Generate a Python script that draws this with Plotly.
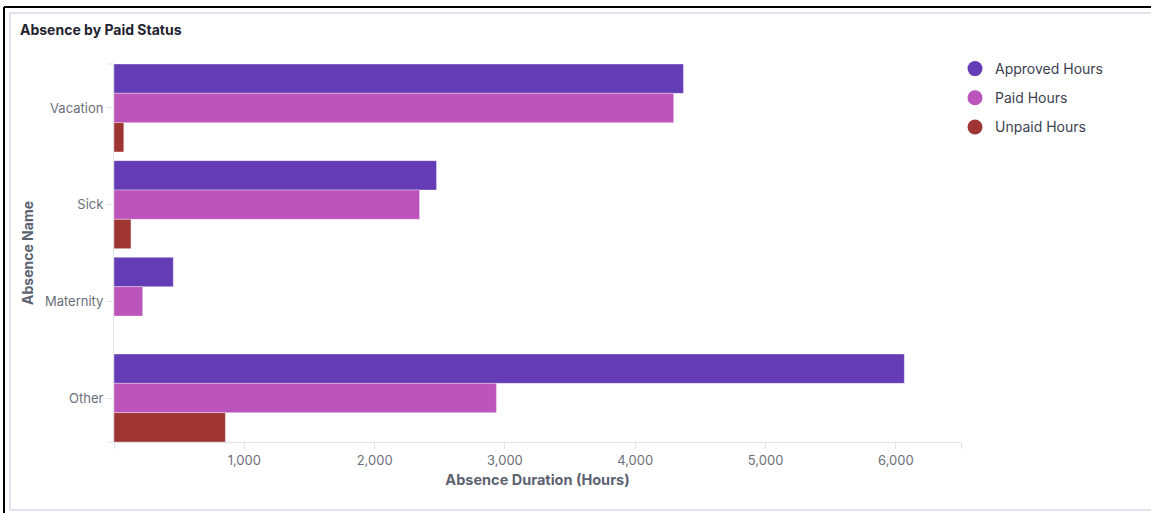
import plotly.graph_objects as go

absences = ['Vacation', 'Sick', 'Maternity', 'Other']
approved_hours = [4370, 2475, 455, 6065]
paid_hours = [4295, 2345, 220, 2935]
unpaid_hours = [75, 130, 0, 855]

series = [
    ('Approved Hours', approved_hours, '#643cb5'),
    ('Paid Hours', paid_hours, '#bb54bb'),
    ('Unpaid Hours', unpaid_hours, '#9e3533'),
]

W, H = 1151, 513
L, R, T, B = 114, 190, 64, 71
PW, PH = W - L - R, H - T - B


def px_x(p):
    return (p - L) / PW


def px_y(p):
    return (H - B - p) / PH


fig = go.Figure()
for name, vals, color in series:
    fig.add_trace(go.Bar(
        y=absences, x=vals, name=name, orientation='h',
        marker=dict(color=color, line=dict(color='rgba(255,255,255,0.35)', width=1)),
        showlegend=False, legendgroup=name,
    ))
for name, vals, color in series:
    fig.add_trace(go.Scatter(
        x=[None], y=[None], mode='markers', name=name, legendgroup=name,
        marker=dict(color=color, size=15, symbol='circle'),
    ))

gap = 0.09
fig.update_layout(
    width=W, height=H,
    margin=dict(l=L, r=R, t=T, b=B),
    plot_bgcolor='white', paper_bgcolor='white',
    font=dict(family='Inter', color='#6b6f7b', size=13),
    barmode='group', bargap=gap, bargroupgap=0,
    title=dict(text='<b>Absence by Paid Status</b>', xref='container', yref='container',
               x=20 / W, y=1 - 30 / H, xanchor='left', yanchor='middle',
               font=dict(size=14, color='#1f2330')),
    legend=dict(x=px_x(955), y=px_y(53), xanchor='left', yanchor='top',
                font=dict(size=14, color='#3c4150'), tracegroupgap=8,
                traceorder='grouped', itemclick=False),
    xaxis=dict(range=[0, 6500], tickvals=[0, 1000, 2000, 3000, 4000, 5000, 6000, 6500],
               ticktext=['', '1,000', '2,000', '3,000', '4,000', '5,000', '6,000', ''],
               showgrid=False, zeroline=False, showline=True, linecolor='#e2e3e6',
               ticks='outside', ticklen=6, tickcolor='#e2e3e6',
               title=dict(text='<b>Absence Duration (Hours)</b>', standoff=8,
                          font=dict(size=14.5, color='#5d6271'))),
    yaxis=dict(range=[3.5 - gap / 2, -0.5 + gap / 2], showgrid=False, zeroline=False,
               showline=True, linecolor='#e2e3e6', ticks='outside', ticklen=7,
               tickcolor='#e2e3e6',
               title=dict(text='<b>Absence Name</b>', standoff=8,
                          font=dict(size=14, color='#5d6271'))),
)

# small boundary ticks at the top and bottom of the category axis
for yp in (0, 1):
    fig.add_shape(type='line', xref='paper', yref='paper', x0=px_x(107), x1=0,
                  y0=yp, y1=yp, line=dict(color='#e2e3e6', width=1))

# card frame
fig.add_shape(type='rect', xref='paper', yref='paper', layer='below',
              x0=px_x(10), x1=px_x(1165), y0=px_y(13), y1=px_y(510),
              line=dict(color='#d6dae6', width=1.5))
fig.add_shape(type='line', xref='paper', yref='paper',
              x0=px_x(4), x1=px_x(1160), y0=px_y(7), y1=px_y(7),
              line=dict(color='black', width=2))
fig.add_shape(type='line', xref='paper', yref='paper',
              x0=px_x(4), x1=px_x(4), y0=px_y(7), y1=px_y(520),
              line=dict(color='black', width=2))

fig.write_html('out.html', config={'displayModeBar': False},
               post_script="document.body.style.margin = '0';")
